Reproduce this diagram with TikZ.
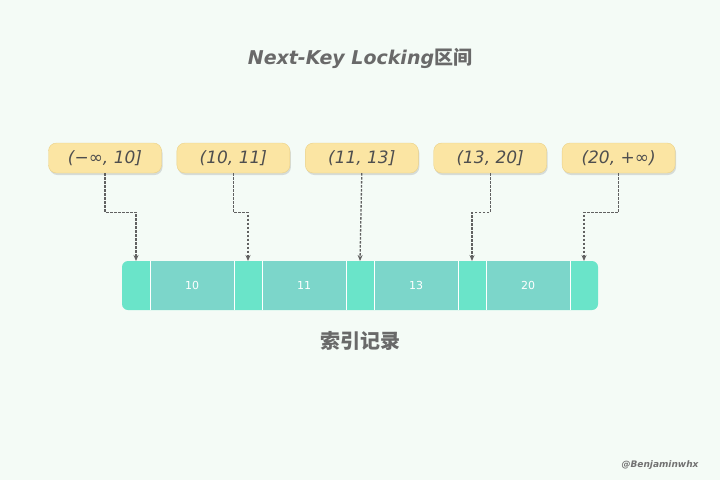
\documentclass[tikz,border=0pt]{standalone}
\usepackage{fontspec}
\setmainfont{DejaVu Sans}
\newfontfamily\cjk{Noto Sans CJK SC}
\usetikzlibrary{positioning,shadows,backgrounds,arrows.meta}

\definecolor{bgmint}{HTML}{F4FBF6}
\definecolor{lockyellow}{HTML}{FBE5A3}
\definecolor{lockedge}{HTML}{EBD187}
\definecolor{gapcyan}{HTML}{6AE4C9}
\definecolor{reccyan}{HTML}{7CD6CA}
\definecolor{textgrey}{HTML}{4E4E4E}

\begin{document}
\begin{tikzpicture}[x=1pt, y=-1pt, node distance=15pt,
    interval/.style={draw=lockedge, fill=lockyellow, rounded corners=8pt,
        minimum width=113pt, minimum height=30pt, text=textgrey,
        font=\fontsize{17}{17}\selectfont\itshape,
        drop shadow={opacity=0.25, shadow xshift=1pt, shadow yshift=-2pt}},
    gapcell/.style={minimum width=28pt, minimum height=49pt, inner sep=0pt, outer sep=0pt},
    record/.style={gapcell, fill=reccyan, minimum width=84pt, text=white!92,
        font=\fontsize{11}{11}\selectfont},
    link/.style={-{Stealth[length=6pt,width=5pt]}, line width=1.3pt,
        dash pattern=on 2.5pt off 1.5pt, draw=black!62}]
    % background and margins
    \begin{scope}[on background layer]
        \fill[bgmint] (0,0) rectangle (720,480);
    \end{scope}
    \useasboundingbox (0,0) rectangle (720,480);

    % title
    \node[text=textgrey!85, font=\fontsize{19}{19}\selectfont\bfseries] (title) at (360,58)
        {\itshape Next-Key Locking\cjk 区间};

    % intervals
    \node[interval] (iv1) at (105,158) {(−∞, 10]};
    \node[interval, right=of iv1] (iv2) {(10, 11]};
    \node[interval, right=of iv2] (iv3) {(11, 13]};
    \node[interval, right=of iv3] (iv4) {(13, 20]};
    \node[interval, right=of iv4] (iv5) {(20, +∞)};

    % index records
    \node[gapcell] (g0) at (136,285.5) {};
    \node[record, right=0pt of g0] (r10) {10};
    \node[gapcell, right=0pt of r10] (g1) {};
    \node[record, right=0pt of g1] (r11) {11};
    \node[gapcell, right=0pt of r11] (g2) {};
    \node[record, right=0pt of g2] (r13) {13};
    \node[gapcell, right=0pt of r13] (g3) {};
    \node[record, right=0pt of g3] (r20) {20};
    \node[gapcell, right=0pt of r20] (g4) {};
    \begin{scope}[on background layer]
        \fill[gapcyan, rounded corners=6pt] (g0.north west) rectangle (g4.south east);
    \end{scope}
    \foreach \r in {r10,r11,r13,r20} {
        \draw[white, line width=1pt] (\r.north west) -- (\r.south west);
        \draw[white, line width=1pt] (\r.north east) -- (\r.south east);
    }

    \node[text=textgrey!85, font=\fontsize{20}{20}\selectfont\cjk\bfseries] (caption) at (360,341) {索引记录};
    \node[text=textgrey!80, font=\fontsize{9}{9}\selectfont\bfseries\itshape] (sign) at (660,465) {@Benjaminwhx};

    % links
    \draw[link] (iv1.south) -- ++(0,39) -| (g0.north);
    \draw[link] (iv2.south) -- ++(0,39) -| (g1.north);
    \draw[link] (iv3.south) -- (g2.north);
    \draw[link] (iv4.south) -- ++(0,39) -| (g3.north);
    \draw[link] (iv5.south) -- ++(0,39) -| (g4.north);
\end{tikzpicture}
\end{document}
